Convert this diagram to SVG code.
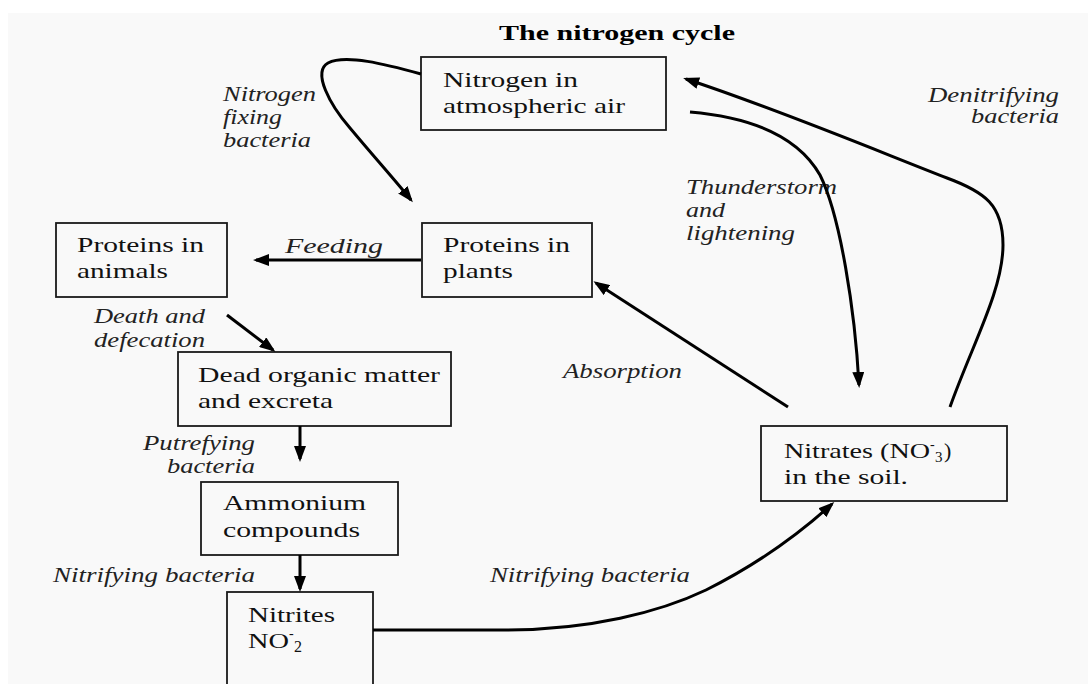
<svg xmlns="http://www.w3.org/2000/svg" width="1088" height="684" viewBox="0 0 1088 684">
<style>
.box{fill:none;stroke:#1a1a1a;stroke-width:1.8}
.bt{font-family:"Liberation Serif","Times New Roman",serif;font-size:22px;fill:#111}
.lb{font-family:"Liberation Serif","Times New Roman",serif;font-size:20px;font-style:italic;fill:#222}
.ttl{font-family:"Liberation Serif","Times New Roman",serif;font-size:21px;font-weight:bold;fill:#000}
.cn{fill:none;stroke:#000;stroke-width:3;marker-end:url(#ah)}
</style>
<defs>
<marker id="ah" viewBox="0 0 16 12" refX="13" refY="6" markerWidth="16" markerHeight="12" orient="auto" markerUnits="userSpaceOnUse">
<path d="M0,0 L16,6 L0,12 z" fill="#000"/>
</marker>
</defs>
<rect x="0" y="0" width="1088" height="684" fill="#ffffff"/>
<rect x="8" y="13" width="1080" height="671" fill="#f9f9f9"/>

<text class="ttl" x="499" y="40" textLength="236" lengthAdjust="spacingAndGlyphs">The nitrogen cycle</text>

<g id="n-air">
<rect class="box" x="421" y="57" width="245" height="73"/>
<text class="bt" x="443" y="87" textLength="135" lengthAdjust="spacingAndGlyphs">Nitrogen in</text>
<text class="bt" x="443" y="113" textLength="182" lengthAdjust="spacingAndGlyphs">atmospheric air</text>
</g>

<g id="n-plants">
<rect class="box" x="422" y="223" width="170" height="74"/>
<text class="bt" x="443" y="252" textLength="127" lengthAdjust="spacingAndGlyphs">Proteins in</text>
<text class="bt" x="443" y="278" textLength="70" lengthAdjust="spacingAndGlyphs">plants</text>
</g>

<g id="n-animals">
<rect class="box" x="56" y="223" width="171" height="74"/>
<text class="bt" x="77" y="252" textLength="127" lengthAdjust="spacingAndGlyphs">Proteins in</text>
<text class="bt" x="77" y="278" textLength="91" lengthAdjust="spacingAndGlyphs">animals</text>
</g>

<g id="n-dead">
<rect class="box" x="178" y="352" width="273" height="74"/>
<text class="bt" x="198" y="382" textLength="242" lengthAdjust="spacingAndGlyphs">Dead organic matter</text>
<text class="bt" x="198" y="408" textLength="135" lengthAdjust="spacingAndGlyphs">and excreta</text>
</g>

<g id="n-ammonium">
<rect class="box" x="201" y="482" width="197" height="73"/>
<text class="bt" x="223" y="510" textLength="143" lengthAdjust="spacingAndGlyphs">Ammonium</text>
<text class="bt" x="223" y="537" textLength="137" lengthAdjust="spacingAndGlyphs">compounds</text>
</g>

<g id="n-nitrites">
<rect class="box" x="227" y="592" width="146" height="110"/>
<text class="bt" x="248" y="622" textLength="87" lengthAdjust="spacingAndGlyphs">Nitrites</text>
<text class="bt"><tspan x="248" y="648" textLength="41" lengthAdjust="spacingAndGlyphs">NO</tspan><tspan x="289" y="638" font-size="14">-</tspan><tspan x="294" y="652" font-size="16">2</tspan></text>
</g>

<g id="n-nitrates">
<rect class="box" x="761" y="426" width="246" height="75"/>
<text class="bt"><tspan x="784" y="458" textLength="146" lengthAdjust="spacingAndGlyphs">Nitrates (NO</tspan><tspan x="930" y="449" font-size="14">-</tspan><tspan x="935" y="462" font-size="15">3</tspan><tspan x="944" y="458">)</tspan></text>
<text class="bt" x="784" y="484" textLength="124" lengthAdjust="spacingAndGlyphs">in the soil.</text>
</g>

<g id="labels">
<text class="lb" x="223" y="101" textLength="93" lengthAdjust="spacingAndGlyphs">Nitrogen</text>
<text class="lb" x="223" y="124" textLength="59" lengthAdjust="spacingAndGlyphs">fixing</text>
<text class="lb" x="223" y="147" textLength="88" lengthAdjust="spacingAndGlyphs">bacteria</text>
<text class="lb" x="285" y="253" textLength="98" lengthAdjust="spacingAndGlyphs">Feeding</text>
<text class="lb" x="94" y="323" textLength="111" lengthAdjust="spacingAndGlyphs">Death and</text>
<text class="lb" x="94" y="347" textLength="111" lengthAdjust="spacingAndGlyphs">defecation</text>
<text class="lb" x="143" y="450" textLength="112" lengthAdjust="spacingAndGlyphs">Putrefying</text>
<text class="lb" x="167" y="473" textLength="88" lengthAdjust="spacingAndGlyphs">bacteria</text>
<text class="lb" x="53" y="582" textLength="202" lengthAdjust="spacingAndGlyphs">Nitrifying bacteria</text>
<text class="lb" x="490" y="582" textLength="200" lengthAdjust="spacingAndGlyphs">Nitrifying bacteria</text>
<text class="lb" x="563" y="378" textLength="119" lengthAdjust="spacingAndGlyphs">Absorption</text>
<text class="lb" x="686" y="194" textLength="151" lengthAdjust="spacingAndGlyphs">Thunderstorm</text>
<text class="lb" x="686" y="217" textLength="39" lengthAdjust="spacingAndGlyphs">and</text>
<text class="lb" x="686" y="240" textLength="109" lengthAdjust="spacingAndGlyphs">lightening</text>
<text class="lb" x="928" y="102" textLength="131" lengthAdjust="spacingAndGlyphs">Denitrifying</text>
<text class="lb" x="971" y="123" textLength="88" lengthAdjust="spacingAndGlyphs">bacteria</text>
</g>

<g id="connectors">
<path class="cn" d="M421,74 C385,64 345,54 328,63 C312,72 330,105 350,128 C375,158 395,180 411,200"/>
<path class="cn" d="M421,260 L256,260"/>
<path class="cn" d="M227,315 L273,350"/>
<path class="cn" d="M300,426 L300,459"/>
<path class="cn" d="M300,555 L300,589"/>
<path class="cn" d="M373,630 L505,630 C590,630 660,612 706,590 C760,563 800,533 832,504"/>
<path class="cn" d="M788,407 L596,283"/>
<path class="cn" d="M690,112 C760,118 800,140 820,175 C840,215 855,310 859,385"/>
<path class="cn" d="M950,407 C972,345 1003,290 1003,245 C1003,205 985,192 947,178 C880,152 780,110 686,79"/>
</g>
</svg>
